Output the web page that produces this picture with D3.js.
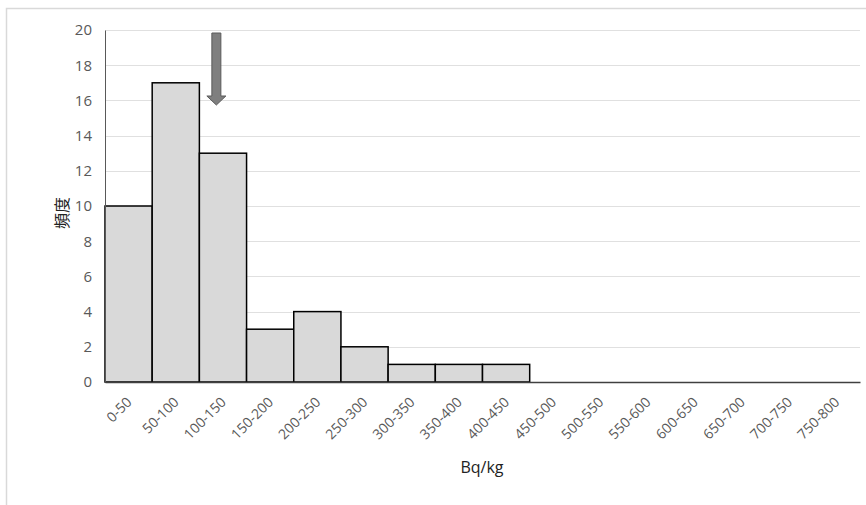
<!DOCTYPE html>
<html><head><meta charset="utf-8">
<script src="https://cdn.jsdelivr.net/npm/d3@7"></script>
<style>body{margin:0;background:#fff;}svg{display:block;}</style>
</head><body><svg id="c" width="866" height="505"></svg>
<script>
const categories = ["0-50","50-100","100-150","150-200","200-250","250-300","300-350","350-400","400-450","450-500","500-550","550-600","600-650","650-700","700-750","750-800"];
const counts = [10,17,13,3,4,2,1,1,1,0,0,0,0,0,0,0];
const yTicks = [0,2,4,6,8,10,12,14,16,18,20];
const arrowCategory = "100-150";
const yTitle = "頻度";
const xTitle = "Bq/kg";

const svg = d3.select("#c");
const pLeft = 105, pRight = 860, pTop = 30, pBottom = 382;
const font = "'Open Sans', 'Liberation Sans', sans-serif";

// outer border
svg.append("path").attr("d","M6.5,505 V8.5 H866").attr("fill","none").attr("stroke","#d9d9d9").attr("stroke-width",1.5);

const x = d3.scaleBand().domain(categories).range([pLeft,pRight]).padding(0);
const y = d3.scaleLinear().domain([0,20]).range([pBottom,pTop]);

// gridlines
svg.append("g").selectAll("line").data(yTicks.filter(d=>d>0)).join("line")
  .attr("x1",pLeft).attr("x2",pRight).attr("y1",d=>Math.round(y(d))+0.5).attr("y2",d=>Math.round(y(d))+0.5)
  .attr("stroke","#e0e0e0").attr("stroke-width",1);

// bars
svg.append("g").selectAll("rect").data(categories.map((c,i)=>({c,v:counts[i]})).filter(d=>d.v>0)).join("rect")
  .attr("x",d=>x(d.c)).attr("width",x.bandwidth()).attr("y",d=>y(d.v)).attr("height",d=>y(0)-y(d.v))
  .attr("fill","#d9d9d9").attr("stroke","#000").attr("stroke-width",1.5);

// y axis
const yAxis = d3.axisLeft(y).tickValues(yTicks).tickSize(0).tickPadding(13);
const gy = svg.append("g").attr("transform",`translate(${pLeft},0)`).call(yAxis);
gy.select(".domain").attr("stroke","#595959").attr("stroke-width",1);
gy.selectAll("text").attr("font-family",font).attr("font-size",15).attr("fill","#595959");

// x axis
const xAxis = d3.axisBottom(x).tickSize(0).tickPadding(0);
const gx = svg.append("g").attr("transform",`translate(0,${pBottom})`).call(xAxis);
gx.select(".domain").attr("stroke","#404040").attr("stroke-width",1.5);
gx.selectAll(".tick text").attr("font-family",font).attr("font-size",14).attr("fill","#595959")
  .attr("text-anchor","end").attr("dy",null).attr("y",0)
  .attr("transform","translate(4,21) rotate(-45)");

// arrow
const ax = x(arrowCategory) + x.bandwidth()*0.36;
const arrowPath = `M${ax-4.5},33 H${ax+4.5} V96 H${ax+9.5} L${ax},105 L${ax-9.5},96 H${ax-4.5} Z`;
svg.append("path").attr("d",arrowPath).attr("fill","#7f7f7f").attr("stroke","#5a5a5a").attr("stroke-width",1);

// titles
svg.append("text").attr("transform","translate(68,213) rotate(-90)").attr("text-anchor","middle")
  .attr("font-family","'Noto Sans CJK JP', sans-serif").attr("font-size",16).attr("fill","#222").text(yTitle);
svg.append("text").attr("x",482).attr("y",473).attr("text-anchor","middle")
  .attr("font-family",font).attr("font-size",16).attr("fill","#222").text(xTitle);
</script></body></html>
